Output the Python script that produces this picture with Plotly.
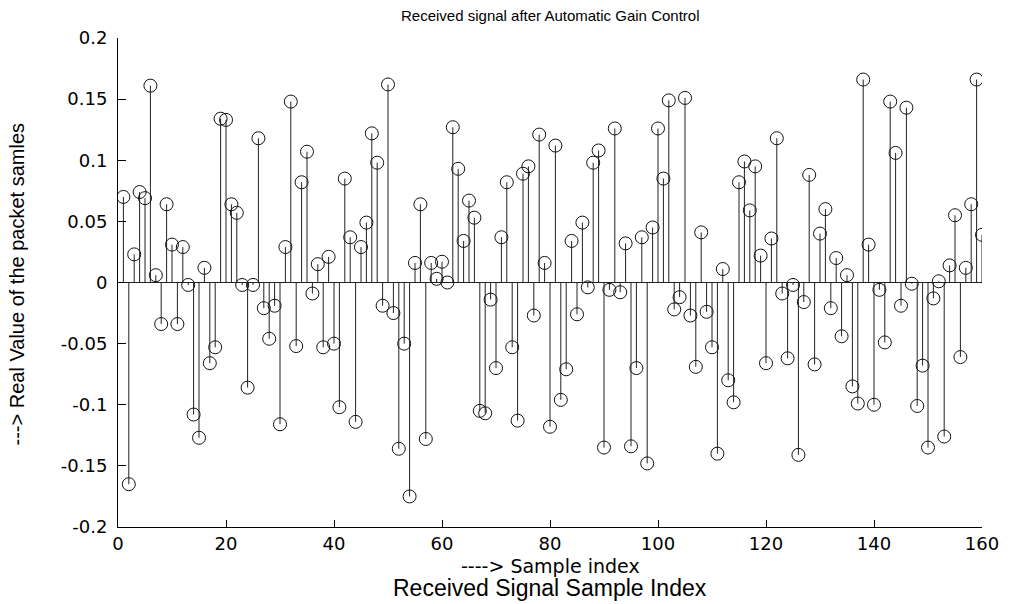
import plotly.graph_objects as go

sample_index = list(range(1, 161))
values = [
    0.070, -0.165, 0.023, 0.074, 0.069, 0.161, 0.006, -0.034, 0.064, 0.031,
    -0.034, 0.029, -0.002, -0.108, -0.127, 0.012, -0.066, -0.053, 0.134, 0.133,
    0.064, 0.057, -0.002, -0.086, -0.002, 0.118, -0.021, -0.046, -0.019, -0.116,
    0.029, 0.148, -0.052, 0.082, 0.107, -0.009, 0.015, -0.053, 0.021, -0.050,
    -0.102, 0.085, 0.037, -0.114, 0.029, 0.049, 0.122, 0.098, -0.019, 0.162,
    -0.025, -0.136, -0.050, -0.175, 0.016, 0.064, -0.128, 0.016, 0.003, 0.017,
    0.000, 0.127, 0.093, 0.034, 0.067, 0.053, -0.105, -0.107, -0.014, -0.070,
    0.037, 0.082, -0.053, -0.113, 0.089, 0.095, -0.027, 0.121, 0.016, -0.118,
    0.112, -0.096, -0.071, 0.034, -0.026, 0.049, -0.004, 0.098, 0.108, -0.135,
    -0.006, 0.126, -0.008, 0.032, -0.134, -0.070, 0.037, -0.148, 0.045, 0.126,
    0.085, 0.149, -0.022, -0.012, 0.151, -0.027, -0.069, 0.041, -0.024, -0.053,
    -0.140, 0.011, -0.080, -0.098, 0.082, 0.099, 0.059, 0.095, 0.022, -0.066,
    0.036, 0.118, -0.009, -0.062, -0.002, -0.141, -0.016, 0.088, -0.067, 0.040,
    0.060, -0.021, 0.020, -0.044, 0.006, -0.085, -0.099, 0.166, 0.031, -0.100,
    -0.006, -0.049, 0.148, 0.106, -0.019, 0.143, -0.001, -0.101, -0.068, -0.135,
    -0.013, 0.001, -0.126, 0.014, 0.055, -0.061, 0.012, 0.064, 0.166, 0.039,
]
y_tick_vals = [0.2, 0.15, 0.1, 0.05, 0, -0.05, -0.1, -0.15, -0.2]
y_tick_text = ["0.2", "0.15", "0.1", "0.05", "0", "-0.05", "-0.1", "-0.15", "-0.2"]
x_tick_vals = [0, 20, 40, 60, 80, 100, 120, 140, 160]

title_text = "Received signal after Automatic Gain Control"
x_label = "----> Sample index"
x_caption = "Received Signal Sample Index"
y_label = "---> Real Value of the packet samles"

stem_x, stem_y = [], []
for n, v in zip(sample_index, values):
    stem_x += [n, n, None]
    stem_y += [0, v, None]

FONT = "Liberation Sans, Arial, sans-serif"
WIDE = "DejaVu Sans, Verdana, sans-serif"

fig = go.Figure()
fig.add_trace(go.Scatter(x=stem_x, y=stem_y, mode="lines",
                         line=dict(color="#222222", width=1),
                         hoverinfo="skip", showlegend=False))
fig.add_trace(go.Scatter(x=sample_index, y=values, mode="markers",
                         marker=dict(symbol="circle-open", size=13,
                                     color="#111111", line=dict(width=1)),
                         showlegend=False))

fig.update_layout(
    width=1017, height=604,
    margin=dict(l=118, r=35, t=38, b=77),
    paper_bgcolor="white", plot_bgcolor="white",
    font=dict(family=FONT, color="black"),
    xaxis=dict(range=[0, 160], tickvals=x_tick_vals, ticks="inside", ticklen=7,
               tickcolor="black", showline=True, linecolor="black", linewidth=1,
               showgrid=False, zeroline=False,
               tickfont=dict(size=18, family=WIDE),
               mirror=False),
    yaxis=dict(range=[-0.2, 0.2], tickvals=y_tick_vals, ticktext=y_tick_text,
               ticks="inside", ticklen=8, tickcolor="black", showline=True,
               linecolor="black", linewidth=1, showgrid=False, zeroline=True,
               zerolinecolor="#222222", zerolinewidth=1,
               tickfont=dict(size=18, family=WIDE), ticklabelstandoff=6,
               mirror=False),
    annotations=[
        dict(text=title_text, x=0.5, y=1.0, xref="paper", yref="paper",
             xanchor="center", yanchor="bottom", yshift=13, showarrow=False,
             font=dict(size=15), borderpad=0),
        dict(text=x_label, x=0.5, y=0, xref="paper", yref="paper",
             xanchor="center", yanchor="middle", yshift=-39, showarrow=False,
             font=dict(size=19, family=WIDE), borderpad=0),
        dict(text=x_caption, x=0.5, y=0, xref="paper", yref="paper",
             xanchor="center", yanchor="middle", yshift=-61, showarrow=False,
             font=dict(size=23), borderpad=0),
        dict(text=y_label, x=0, y=0.5, xref="paper", yref="paper",
             xanchor="center", yanchor="middle", xshift=-102, yshift=-2,
             textangle=-90, showarrow=False, font=dict(size=20), borderpad=0),
    ],
)

fig.write_html("out.html")
